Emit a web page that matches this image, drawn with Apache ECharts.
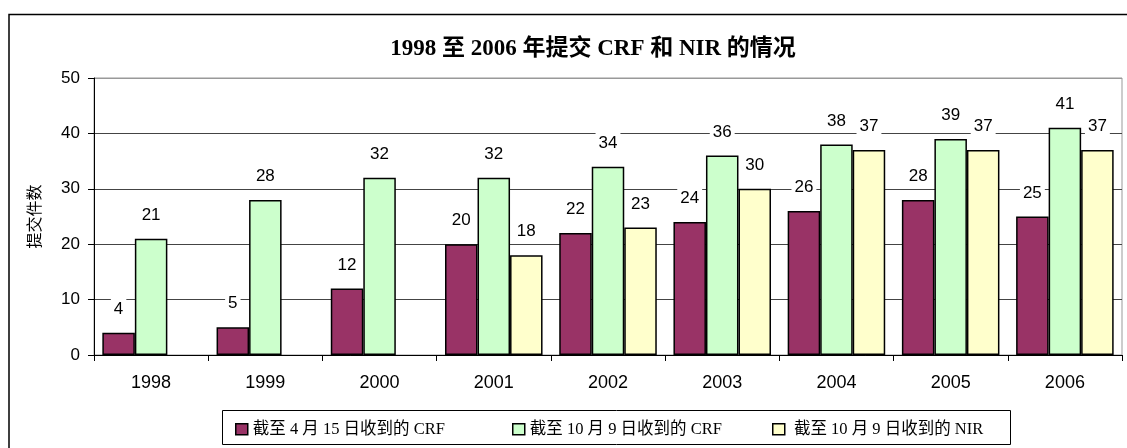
<!DOCTYPE html>
<html>
<head>
    <meta charset="utf-8">
    <title>ECharts</title>
    <script src="https://cdn.jsdelivr.net/npm/echarts@6/dist/echarts.min.js"></script>
</head>
<body style="margin:0;">
    <div id="main" style="width:1127px;height:448px;"></div>
    <script type="text/javascript">
        // 数据
        var years = ['1998', '1999', '2000', '2001', '2002', '2003', '2004', '2005', '2006'];
        var crfApr = [4, 5, 12, 20, 22, 24, 26, 28, 25];
        var crfOct = [21, 28, 32, 32, 34, 36, 38, 39, 41];
        var nirOct = [null, null, null, 18, 23, 30, 37, 37, 37];
        var seriesNames = ['截至 4 月 15 日收到的 CRF', '截至 10 月 9 日收到的 CRF', ' 截至 10 月 9 日收到的 NIR'];

        var sans = 'Liberation Sans, Arial, sans-serif';
        var serif = 'Liberation Serif, Noto Sans CJK SC, serif';

        var barLabel = {
            show: true,
            position: 'top',
            distance: 13,
            color: '#000',
            fontFamily: sans,
            fontSize: 17,
            backgroundColor: '#fff',
            padding: [2, 3]
        };

        function makeBar(name, data, color) {
            return {
                name: name,
                type: 'bar',
                data: data,
                barGap: 0,
                barCategoryGap: '14.6%',
                itemStyle: { color: color, borderColor: '#000', borderWidth: 1.5 },
                label: barLabel
            };
        }

        // 每个图例单独放置
        function makeLegend(name, left) {
            return {
                data: [name],
                left: left,
                top: 421,
                padding: 0,
                itemWidth: 12,
                itemHeight: 11,
                icon: 'rect',
                itemStyle: { borderColor: '#000', borderWidth: 1.5 },
                textStyle: { fontFamily: serif, fontSize: 16.5, color: '#000' }
            };
        }

        var myChart = echarts.init(document.getElementById('main'));
        myChart.setOption({
            animation: false,
            backgroundColor: '#fff',
            title: {
                text: '1998 至 2006 年提交 CRF 和 NIR 的情况',
                left: 588,
                textAlign: 'center',
                top: 33,
                textStyle: { fontFamily: serif, fontSize: 23, fontWeight: 'bold', color: '#000' }
            },
            graphic: [{
                type: 'rect',
                shape: { x: 9, y: 14.5, width: 1130, height: 450 },
                style: { fill: 'none', stroke: '#000', lineWidth: 1.5 },
                silent: true
            }, {
                type: 'rect',
                shape: { x: 94, y: 78, width: 1028, height: 277 },
                style: { fill: 'none', stroke: '#999', lineWidth: 1 },
                silent: true,
                z: 0
            }, {
                type: 'rect',
                shape: { x: 222.5, y: 410.5, width: 788, height: 34 },
                style: { fill: 'none', stroke: '#000', lineWidth: 1 },
                silent: true
            }],
            legend: [
                makeLegend(seriesNames[0], 235),
                makeLegend(seriesNames[1], 512),
                makeLegend(seriesNames[2], 772)
            ],
            grid: { left: 94, right: 5, top: 78, bottom: 93 },
            xAxis: {
                type: 'category',
                data: years,
                axisLine: { lineStyle: { color: '#000', width: 1 } },
                axisTick: { show: true, length: 6, lineStyle: { color: '#000' } },
                axisLabel: { color: '#000', fontFamily: sans, fontSize: 18, margin: 19 }
            },
            yAxis: {
                type: 'value',
                min: 0,
                max: 50,
                interval: 10,
                name: '提交件数',
                nameLocation: 'middle',
                nameGap: 52,
                nameTextStyle: { fontFamily: 'Noto Sans CJK SC', fontSize: 16, color: '#000' },
                axisLine: { show: true, lineStyle: { color: '#000', width: 1 } },
                axisTick: { show: true, length: 6, lineStyle: { color: '#000' } },
                axisLabel: { color: '#000', fontFamily: sans, fontSize: 17, margin: 14 },
                splitLine: { lineStyle: { color: ['#444', '#444', '#444', '#444', '#444', '#999'], width: 1 } }
            },
            series: [
                makeBar(seriesNames[0], crfApr, '#993366'),
                makeBar(seriesNames[1], crfOct, '#CCFFCC'),
                makeBar(seriesNames[2], nirOct, '#FFFFCC')
            ]
        });
    </script>
</body>
</html>
